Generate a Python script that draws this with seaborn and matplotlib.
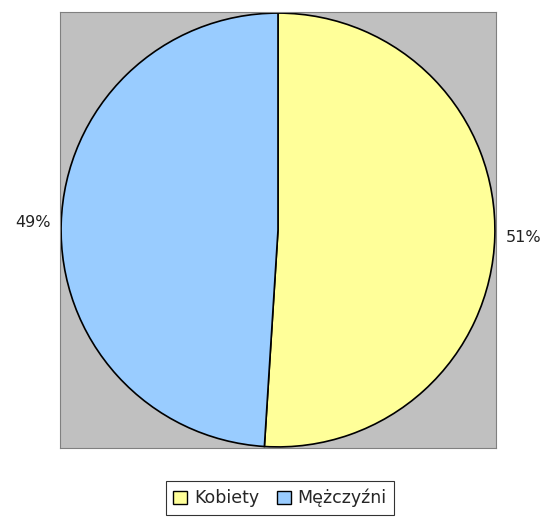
import matplotlib
matplotlib.use("Agg")
import matplotlib.pyplot as plt
import seaborn as sns
from matplotlib.patches import Patch

sns.set_theme(style="white")
plt.rcParams['font.family'] = ['DejaVu Sans']

categories = ["Kobiety", "Mężczyźni"]
values = [51, 49]
colors = ["#FFFF99", "#99CCFF"]

W, H = 545, 521
fig = plt.figure(figsize=(W / 100, H / 100), dpi=100)
fig.patch.set_facecolor("white")
ax = fig.add_axes([60 / W, (H - 448) / H, 436 / W, 436 / H])
ax.set_facecolor("#C0C0C0")
for s in ax.spines.values():
    s.set_visible(True)
    s.set_color("#808080")
    s.set_linewidth(0.8)

labels = [f"{v}%" for v in values]
wedges, texts = ax.pie(values, colors=colors, startangle=90, counterclock=False,
                       labels=labels, labeldistance=1.05,
                       wedgeprops=dict(edgecolor="black", linewidth=1.2),
                       textprops=dict(fontsize=11.5, color="#222222"),
                       radius=1.0, frame=True)
ax.set_xlim(-1.005, 1.005)
ax.set_ylim(-1.005, 1.005)
ax.set_xticks([])
ax.set_yticks([])
ax.set_aspect("auto")

handles = [Patch(facecolor=c, edgecolor="black", label=l) for c, l in zip(colors, categories)]
leg = fig.legend(handles=handles, loc="center", bbox_to_anchor=(280 / W, 1 - 498 / H),
                 ncol=2, frameon=True, fontsize=12.5, handlelength=0.8, handleheight=0.8,
                 handletextpad=0.4, columnspacing=1.0, borderpad=0.45, fancybox=False,
                 borderaxespad=0)
leg.get_frame().set_edgecolor("black")
leg.get_frame().set_linewidth(0.8)

fig.savefig("out.png", dpi=100)
